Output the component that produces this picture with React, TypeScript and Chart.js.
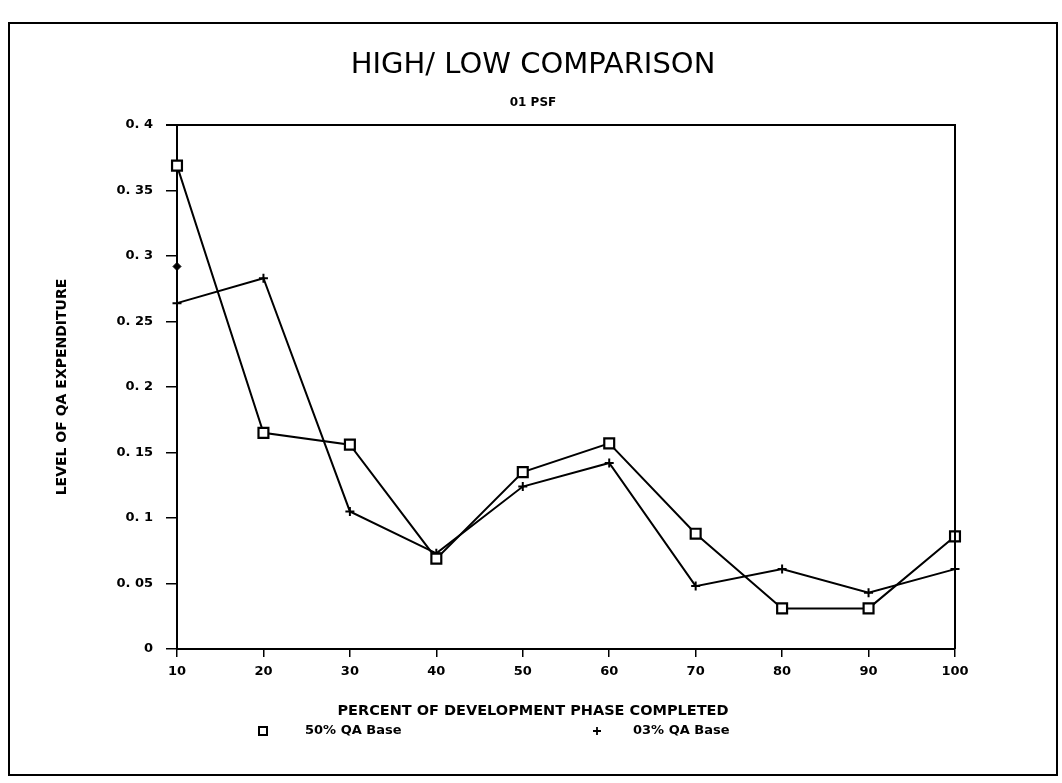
import React, { useEffect, useRef } from "react";
import { Chart, registerables } from "chart.js";

Chart.register(...registerables);

// ---- data ----
const xLabels = ["10", "20", "30", "40", "50", "60", "70", "80", "90", "100"];
const highSeries = [0.369, 0.165, 0.156, 0.069, 0.135, 0.157, 0.088, 0.031, 0.031, 0.086];
const lowSeries = [0.264, 0.283, 0.105, 0.073, 0.124, 0.142, 0.048, 0.061, 0.043, 0.061];
const strayMarker = [0.292, null, null, null, null, null, null, null, null, null];
const yTickLabels = ["0", "0. 05", "0. 1", "0. 15", "0. 2", "0. 25", "0. 3", "0. 35", "0. 4"];
const seriesLabels = ["50% QA Base", "03% QA Base"];
const titleText = "HIGH/ LOW COMPARISON";
const subtitleText = "01 PSF";
const xTitleText = "PERCENT OF DEVELOPMENT PHASE COMPLETED";
const yTitleText = "LEVEL OF QA EXPENDITURE";

const FONT = "'DejaVu Sans', 'Liberation Sans', sans-serif";

const boxPlugin = {
  id: "plotBox",
  afterDraw(chart: any) {
    const { ctx, chartArea } = chart;
    ctx.save();
    ctx.strokeStyle = "#000";
    ctx.lineWidth = 2;
    ctx.beginPath();
    ctx.moveTo(chartArea.left - 11, chartArea.top);
    ctx.lineTo(chartArea.right, chartArea.top);
    ctx.lineTo(chartArea.right, chartArea.bottom);
    ctx.stroke();
    ctx.restore();
  },
};

const bottomTextPlugin = {
  id: "bottomText",
  afterDraw(chart: any) {
    const { ctx, chartArea } = chart;
    const cx = 523;
    ctx.save();
    ctx.fillStyle = "#000";
    ctx.strokeStyle = "#000";
    ctx.textBaseline = "middle";
    // x axis title
    ctx.font = `bold 14.5px ${FONT}`;
    ctx.textAlign = "center";
    ctx.fillText(xTitleText, cx, chartArea.bottom + 62);
    // legend
    const y = chartArea.bottom + 82;
    const xs = [chartArea.left + 86, chartArea.left + 420];
    ctx.font = `bold 13px ${FONT}`;
    ctx.textAlign = "left";
    ctx.lineWidth = 2;
    ctx.strokeRect(xs[0] - 4, y - 4, 8, 8);
    ctx.fillText(seriesLabels[0], xs[0] + 42, y);
    ctx.lineWidth = 1.8;
    ctx.beginPath();
    ctx.moveTo(xs[1] - 4, y);
    ctx.lineTo(xs[1] + 4, y);
    ctx.moveTo(xs[1], y - 4);
    ctx.lineTo(xs[1], y + 4);
    ctx.stroke();
    ctx.fillText(seriesLabels[1], xs[1] + 36, y);
    ctx.restore();
  },
};

export default function App() {
  const canvasRef = useRef<HTMLCanvasElement | null>(null);

  useEffect(() => {
    document.documentElement.style.overflow = "hidden";
    document.body.style.overflow = "hidden";
    if (!canvasRef.current) return;
    Chart.defaults.color = "#000";
    Chart.defaults.font.family = FONT;
    const chart = new Chart(canvasRef.current, {
      type: "line",
      data: {
        labels: xLabels,
        datasets: [
          {
            label: seriesLabels[0],
            data: highSeries,
            borderColor: "#000",
            borderWidth: 2,
            tension: 0,
            pointStyle: "rect",
            pointRadius: 7,
            pointBackgroundColor: "#fff",
            pointBorderColor: "#000",
            pointBorderWidth: 2.2,
          },
          {
            label: seriesLabels[1],
            data: lowSeries,
            borderColor: "#000",
            borderWidth: 2,
            tension: 0,
            pointStyle: "cross",
            pointRadius: 4.5,
            pointBorderColor: "#000",
            pointBorderWidth: 2,
          },
          {
            label: "",
            data: strayMarker,
            showLine: false,
            pointStyle: "rectRot",
            pointRadius: 4,
            pointBackgroundColor: "#000",
            pointBorderColor: "#000",
            pointBorderWidth: 1,
          },
        ],
      },
      options: {
        responsive: true,
        maintainAspectRatio: false,
        animation: false,
        layout: { padding: 0 },
        plugins: {
          legend: { display: false },
          tooltip: { enabled: false },
          title: {
            display: true,
            text: titleText,
            color: "#000",
            font: { family: FONT, size: 29, weight: "normal" },
            padding: { top: 23.6, bottom: 0 },
          },
          subtitle: {
            display: true,
            text: subtitleText,
            color: "#000",
            font: { family: FONT, size: 12, weight: "bold" },
            padding: { top: 13.4, bottom: 14.8 },
          },
        },
        scales: {
          x: {
            type: "category",
            offset: false,
            border: { display: true, color: "#000", width: 2 },
            grid: { display: true, drawOnChartArea: false, drawTicks: true, tickLength: 8, color: "#000", lineWidth: 1.5 },
            ticks: { color: "#000", font: { family: FONT, size: 13, weight: "bold" }, padding: 7, maxRotation: 0, autoSkip: false },
            title: { display: false, text: xTitleText },
            afterFit: (scale: any) => {
              scale.height = Math.max(60, scale.chart.height - 625);
            },
          },
          y: {
            type: "linear",
            position: "left",
            min: 0,
            max: 0.4,
            border: { display: true, color: "#000", width: 2 },
            grid: { display: true, drawOnChartArea: false, drawTicks: true, tickLength: 11, color: "#000", lineWidth: 1.5 },
            ticks: {
              stepSize: 0.05,
              color: "#000",
              font: { family: FONT, size: 13, weight: "bold" },
              padding: 13,
              callback: (value: any) => {
                const i = Math.round(Number(value) / 0.05);
                return yTickLabels[i] ?? "";
              },
            },
            title: {
              display: true,
              text: yTitleText,
              color: "#000",
              font: { family: FONT, size: 14, weight: "bold" },
              padding: { top: 43.6, bottom: 0 },
            },
            afterFit: (scale: any) => {
              scale.width = 167;
            },
          },
          y2: {
            type: "linear",
            position: "right",
            min: 0,
            max: 0.4,
            border: { display: false },
            grid: { display: false },
            ticks: { display: false },
            afterFit: (scale: any) => {
              scale.width = Math.max(20, scale.chart.width - 945);
            },
          },
        },
      },
      plugins: [boxPlugin, bottomTextPlugin],
    } as any);
    return () => chart.destroy();
  }, []);

  return (
    <div
      style={{
        position: "fixed",
        left: 8,
        top: 22,
        right: 4,
        bottom: 7,
        border: "2px solid #000",
        background: "#fff",
        boxSizing: "border-box",
      }}
    >
      <div style={{ position: "relative", width: "100%", height: "100%" }}>
        <canvas ref={canvasRef} style={{ display: "block" }} />
      </div>
    </div>
  );
}
